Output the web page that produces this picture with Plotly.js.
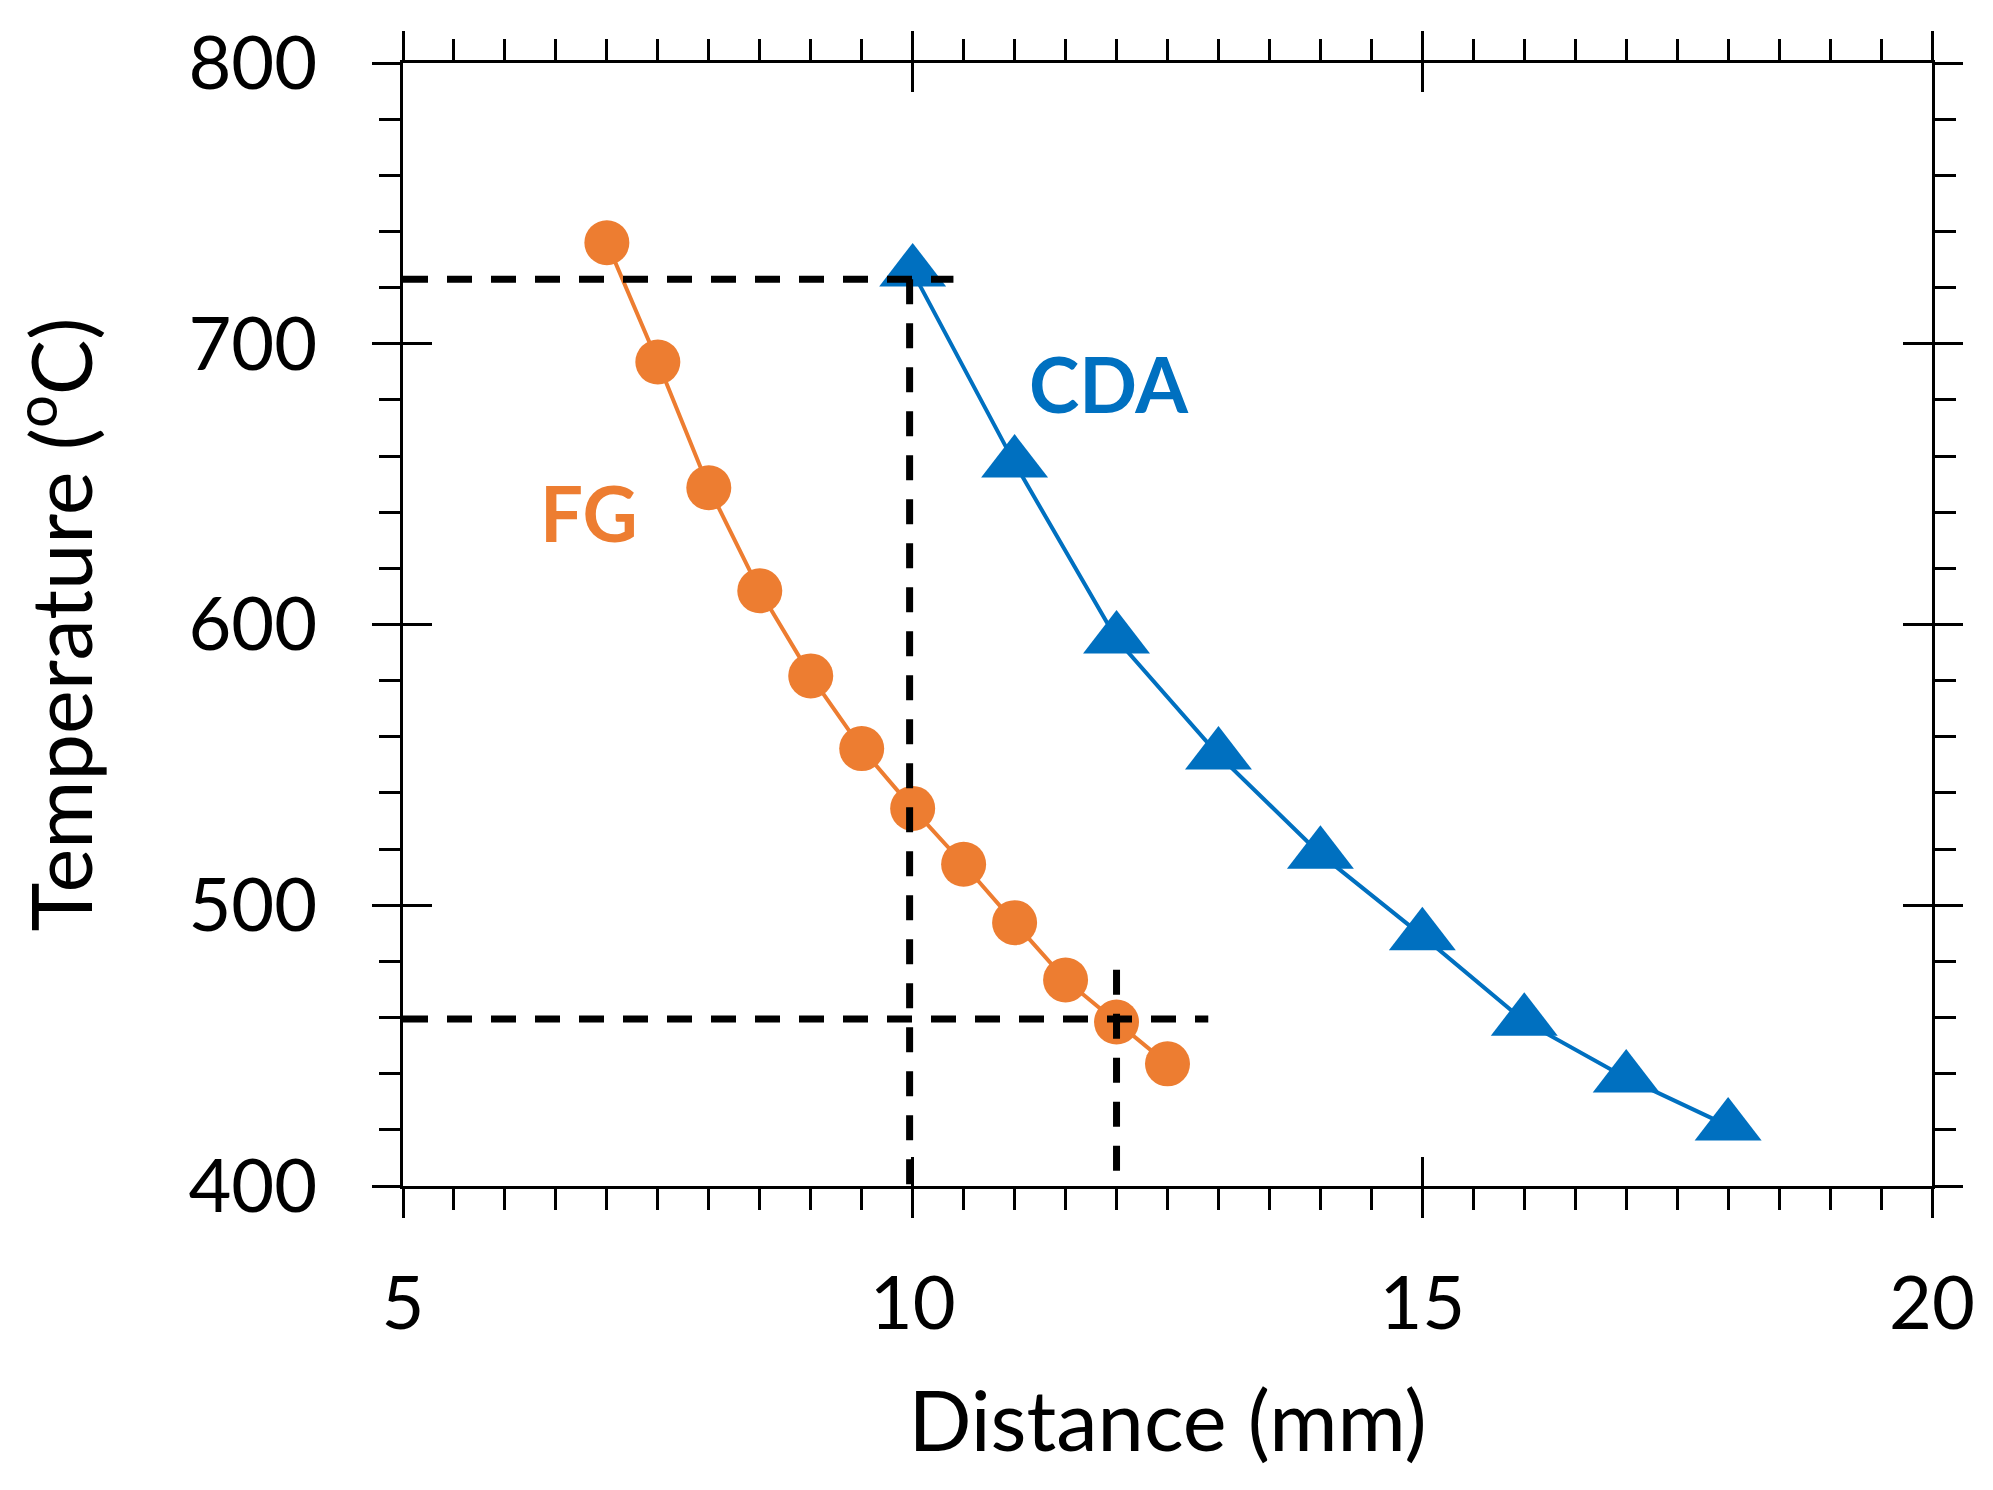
<!DOCTYPE html>
<html>
<head>
<meta charset="utf-8">
<script src="https://cdn.plot.ly/plotly-3.0.1.min.js"></script>
<style>
  html, body { margin: 0; padding: 0; background: #fff; }
  #plot { width: 1993px; height: 1490px; }
</style>
</head>
<body>
<div id="plot"></div>
<script>
// FG (orange circles)
const fgDistance = [7, 7.5, 8, 8.5, 9, 9.5, 10, 10.5, 11, 11.5, 12, 12.5];
const fgTemp = [736, 693.5, 648.7, 612, 581.7, 555.8, 534.5, 514.6, 493.8, 473.4, 458.4, 443.5];

// CDA (blue triangles)
const cdaDistance = [10, 11, 12, 13, 14, 15, 16, 17, 18];
const cdaTemp = [725.6, 657.5, 594.8, 553.5, 518.2, 489.1, 458.7, 438.5, 421.4];

// dashed guide lines
const guideHighX = [5, 10.4];
const guideHighY = [723, 723];
const guideCdaX = [9.97, 9.97];
const guideCdaY = [723, 400];
const guideLowX = [5, 12.9];
const guideLowY = [459.5, 459.5];
const guideFgX = [12, 12];
const guideFgY = [477, 400];

const xRange = [5, 20];
const yRange = [400, 800];

const ORANGE = '#ED7D31';
const BLUE = '#0070C0';
const FONT = 'Lato, "Open Sans", sans-serif';

const fg = {
  x: fgDistance, y: fgTemp, mode: 'lines+markers', type: 'scatter',
  line: {color: ORANGE, width: 4},
  marker: {symbol: 'circle', size: 45, color: ORANGE},
  cliponaxis: false, showlegend: false
};

const cda = {
  x: cdaDistance, y: cdaTemp, mode: 'lines+markers', type: 'scatter',
  line: {color: BLUE, width: 4},
  marker: {symbol: 'triangle-up', size: 58, color: BLUE},
  cliponaxis: false, showlegend: false
};

const guide = (x, y) => ({
  x, y, mode: 'lines', type: 'scatter',
  line: {color: '#000', width: 7, dash: '25px,19px'},
  hoverinfo: 'skip', showlegend: false
});

// invisible trace so the overlay axes (inner half of the major ticks) get drawn
const overlay = {
  x: xRange, y: yRange, xaxis: 'x2', yaxis: 'y2', mode: 'markers',
  marker: {opacity: 0}, hoverinfo: 'skip', showlegend: false
};

const baseAxis = {
  showgrid: false, zeroline: false,
  showline: true, linecolor: '#000', linewidth: 3,
  mirror: 'ticks', ticks: 'outside', tickcolor: '#000', tickwidth: 3,
  autorange: false, automargin: false,
  tickfont: {family: FONT, size: 74, color: '#000'}
};

const layout = {
  width: 1993, height: 1490,
  margin: {l: 403, r: 61, t: 63, b: 304},
  paper_bgcolor: '#fff', plot_bgcolor: '#fff',
  font: {family: FONT, color: '#000'},
  xaxis: Object.assign({}, baseAxis, {
    range: xRange, tick0: 5, dtick: 5, ticklen: 29,
    ticklabelstandoff: 22,
    minor: {dtick: 0.5, ticks: 'outside', ticklen: 21, tickwidth: 3, tickcolor: '#000'},
    title: {text: 'Distance (mm)', font: {family: FONT, size: 83, color: '#000'}, standoff: 50}
  }),
  yaxis: Object.assign({}, baseAxis, {
    range: yRange, tick0: 400, dtick: 100, ticklen: 28,
    ticklabelstandoff: 40,
    minor: {dtick: 20, ticks: 'outside', ticklen: 21, tickwidth: 3, tickcolor: '#000'},
    title: {text: 'Temperature (<sup>o</sup>C)', font: {family: FONT, size: 83, color: '#000'}, standoff: 80}
  }),
  xaxis2: {
    overlaying: 'x', anchor: 'y2', range: xRange, autorange: false,
    tick0: 5, dtick: 5, ticks: 'inside', ticklen: 29, tickwidth: 3, tickcolor: '#000',
    mirror: 'ticks', showline: false, showgrid: false, zeroline: false, showticklabels: false
  },
  yaxis2: {
    overlaying: 'y', anchor: 'x2', range: yRange, autorange: false,
    tick0: 400, dtick: 100, ticks: 'inside', ticklen: 29, tickwidth: 3, tickcolor: '#000',
    mirror: 'ticks', showline: false, showgrid: false, zeroline: false, showticklabels: false
  },
  annotations: [
    {x: 11.93, y: 686, xref: 'x', yref: 'y', text: '<b>CDA</b>', showarrow: false,
     font: {family: FONT, size: 76, color: BLUE}},
    {x: 6.82, y: 640, xref: 'x', yref: 'y', text: '<b>FG</b>', showarrow: false,
     font: {family: FONT, size: 76, color: ORANGE}}
  ]
};

Plotly.newPlot('plot', [
  overlay, fg, cda,
  guide(guideHighX, guideHighY), guide(guideCdaX, guideCdaY),
  guide(guideLowX, guideLowY), guide(guideFgX, guideFgY)
], layout, {staticPlot: true, displayModeBar: false});
</script>
</body>
</html>
